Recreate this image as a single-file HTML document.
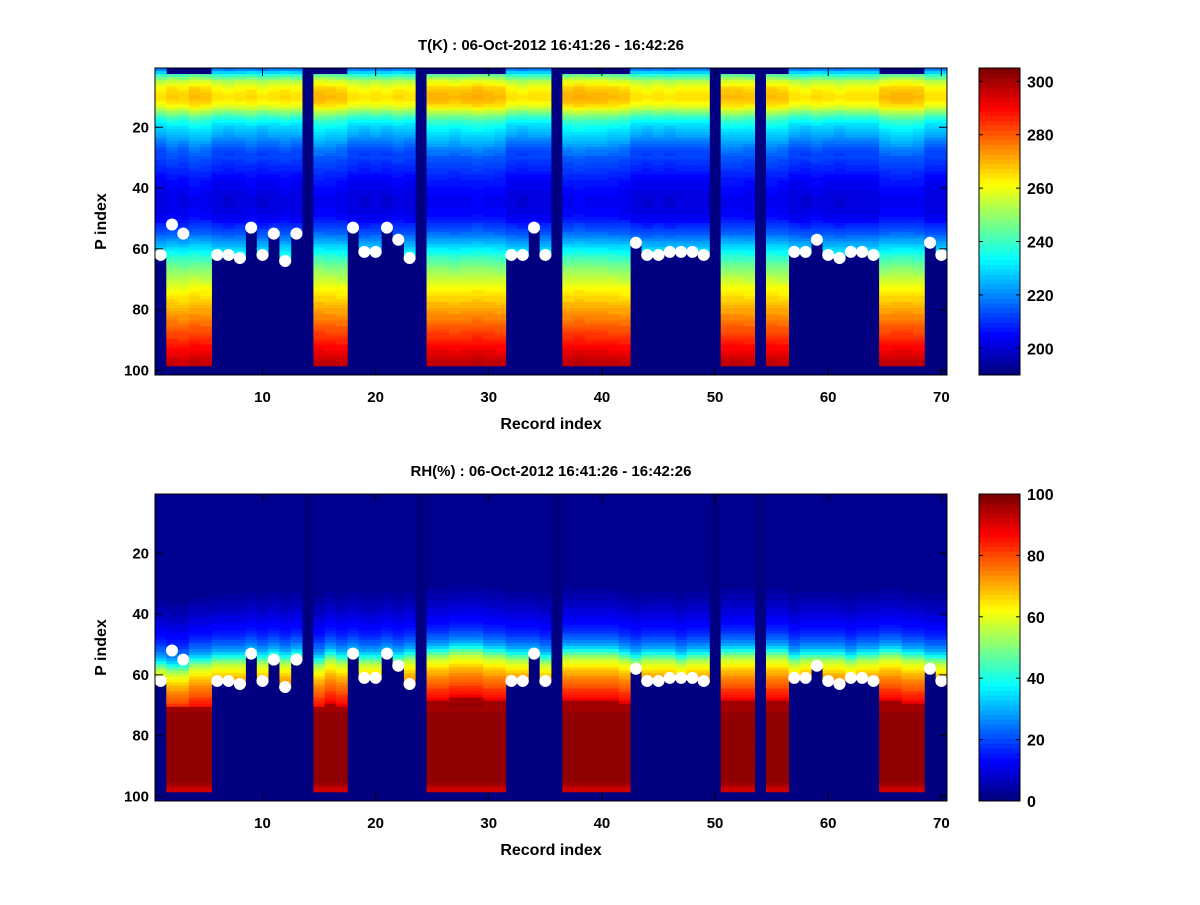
<!DOCTYPE html>
<html><head><meta charset="utf-8">
<style>
body{margin:0;background:#fff;}
svg text{font-family:"Liberation Sans",sans-serif;font-weight:bold;fill:#000;}
</style></head>
<body>
<svg id="fig" width="1200" height="900" xmlns="http://www.w3.org/2000/svg">
<rect width="1200" height="900" fill="#fff"/>
<g id="p1"></g>
<g id="p2"></g>
</svg>
<script>
// ---- data ----
const records = Array.from({length:70},(_,k)=>k+1);
// record type: 0 = gap (no data), 1 = full profile, 2 = land (masked below surface)
const recType = [2,1,1,1,1,2,2,2,2,2,2,2,2,0,1,1,1,2,2,2,2,2,2,0,1,1,1,1,1,1,1,2,2,2,2,0,1,1,1,1,1,1,2,2,2,2,2,2,2,0,1,1,1,0,1,1,2,2,2,2,2,2,2,2,1,1,1,1,2,2];
// surface marker P index (0 = none)
const surfP = [62,52,55,0,0,62,62,63,53,62,55,64,55,0,0,0,0,53,61,61,53,57,63,0,0,0,0,0,0,0,0,62,62,53,62,0,0,0,0,0,0,0,58,62,62,61,61,61,62,0,0,0,0,0,0,0,61,61,57,62,63,61,61,62,0,0,0,0,58,62];
const tBase = [222,232,242,250,256,260,264,266,267,268,267,265,262,257,251,246,241,237,234,231,
229,227,225,223,221,219,217,215,214,213,212,211,210,209,208,207,206,205,205,204,
203,203,202,202,202,202,203,203,204,205,207,209,211,213,215,218,221,224,227,230,
233,236,239,241,244,246,248,250,252,254,256,258,260,262,263,265,266,268,269,271,
272,274,275,277,278,280,281,283,284,286,287,289,290,292,293,295,296,297];
const tOffset = [-3,0,-1,2,1,-3,-4,-3,-2,-4,-3,-2,-3,0,3,2,1,-3,-4,-3,-4,-2,-3,0,3,3,2,3,4,3,2,-3,-4,-3,-3,0,3,4,3,3,2,1,-3,-4,-3,-4,-3,-3,-3,0,2,2,1,0,2,1,-3,-4,-2,-3,-4,-3,-3,-3,2,3,3,2,-3,-3];
const rhBase = [1,1,1,1,1,1,1,1,1,1,1,1,1,1,1,1,1,1,1,1,1,1,1,1,1,1,1,1,1,1,
1,2,2,3,3,4,5,6,7,8,9,10,11,12,13,14,16,18,20,22,
25,29,34,40,46,52,57,61,64,67,70,72,74,76,78,80,82,84,86,89,
97,97,98,98,99,99,99,99,99,99,99,99,99,99,99,99,99,99,99,99,99,99,99,99,99,97,94,92];
const rhShift = [-2,-3,-3,-1,-1,0,0,0,1,0,1,0,1,0,-1,1,0,1,0,0,1,0,1,0,2,2,3,3,3,2,2,1,1,1,0,0,2,2,2,2,2,1,0,1,1,1,0,1,1,0,2,2,2,0,2,2,0,1,1,1,1,0,1,1,2,2,1,1,0,0];
const tTicks = [200,220,240,260,280,300];
const rhTicks = [0,20,40,60,80,100];
const xTicks = [10,20,30,40,50,60,70];
const yTicks = [20,40,60,80,100];

const NS="http://www.w3.org/2000/svg";
function jet(t){t=Math.max(0,Math.min(1,t));t=Math.round(t*63)/63;
 const c=v=>Math.round(255*Math.max(0,Math.min(1,v)));
 return `rgb(${c(1.5-Math.abs(4*t-3))},${c(1.5-Math.abs(4*t-2))},${c(1.5-Math.abs(4*t-1))})`;}
function mk(tag,attrs,parent){const e=document.createElementNS(NS,tag);for(const k in attrs)e.setAttribute(k,attrs[k]);parent.appendChild(e);return e;}

function panel(g,top,title,valFn,cmin,cmax,cticks){
 const L=155,R=947,T=top,B=top+307,cbL=979,cbR=1020;
 const xs=i=>L+(i-0.5)*(R-L)/70;
 const ys=p=>T+(p-0.5)*(B-T)/101;
 const cs=v=>B-(v-cmin)/(cmax-cmin)*(B-T);
 const bg=mk('rect',{x:L,y:T,width:R-L,height:B-T,fill:jet(0)},g);
 
 
 for(let k=0;k<70;k++){
  const i=records[k],ty=recType[k];
  if(ty===0)continue;
  const maxP= ty===2 ? (surfP[k]||98) : 98;
  for(let p=1;p<=maxP;p++){
   const v=valFn(k,p);
   if(v===null)continue;
   const r=mk('rect',{x:xs(i-0.5).toFixed(2),y:ys(p-0.5).toFixed(2),width:((R-L)/70+0.4).toFixed(2),height:((B-T)/101+0.4).toFixed(2),fill:jet((v-cmin)/(cmax-cmin))},g);
   
   
  }
 }
 for(let k=0;k<70;k++){
  if(!surfP[k])continue;
  const c=mk('circle',{cx:xs(records[k]).toFixed(2),cy:ys(surfP[k]).toFixed(2),r:6,fill:'#fff'},g);
  
  
 }
 const fr=mk('rect',{x:L,y:T,width:R-L,height:B-T,fill:'none',stroke:'#000','stroke-width':1},g);
 
 
 xTicks.forEach(t=>{const x=xs(t);
  mk('line',{x1:x,y1:B,x2:x,y2:B-8,stroke:'#000'},g);mk('line',{x1:x,y1:T,x2:x,y2:T+8,stroke:'#000'},g);
  const tx=mk('text',{x:x,y:B+27,'text-anchor':'middle','font-size':15},g);tx.textContent=t;
  
  });
 yTicks.forEach(t=>{const y=ys(t);
  mk('line',{x1:L,y1:y,x2:L+8,y2:y,stroke:'#000'},g);mk('line',{x1:R,y1:y,x2:R-8,y2:y,stroke:'#000'},g);
  const tx=mk('text',{x:L-6,y:y+5,'text-anchor':'end','font-size':15},g);tx.textContent=t;
  
  });
 const ti=mk('text',{x:551,y:T-18,'text-anchor':'middle','font-size':15},g);ti.textContent=title;
 
 
 const xl=mk('text',{x:551,y:B+54,'text-anchor':'middle','font-size':16},g);xl.textContent='Record index';
 
 
 const yl=mk('text',{x:0,y:0,'text-anchor':'middle','font-size':16,transform:`translate(106,${(T+B)/2}) rotate(-90)`},g);yl.textContent='P index';
 
 
 const n=64,h=(B-T)/n;
 for(let s=0;s<n;s++){
  const r=mk('rect',{x:cbL,y:(B-(s+1)*h).toFixed(2),width:cbR-cbL,height:(h+0.4).toFixed(2),fill:jet(s/63)},g);
  
  
 }
 const cf=mk('rect',{x:cbL,y:T,width:cbR-cbL,height:B-T,fill:'none',stroke:'#000'},g);
 
 
 cticks.forEach(t=>{const y=cs(t);
  mk('line',{x1:cbL,y1:y,x2:cbL+4,y2:y,stroke:'#000'},g);mk('line',{x1:cbR,y1:y,x2:cbR-4,y2:y,stroke:'#000'},g);
  const tx=mk('text',{x:1027,y:y+6,'font-size':16},g);tx.textContent=t;
  
  });
}
panel(document.getElementById('p1'),68,'T(K) : 06-Oct-2012 16:41:26 - 16:42:26',
 (k,p)=>{ if(recType[k]===1&&p<=2)return null; return tBase[p-1]+tOffset[k]*(p<30?1:0.5);},190,305,tTicks);
panel(document.getElementById('p2'),494,'RH(%) : 06-Oct-2012 16:41:26 - 16:42:26',
 (k,p)=>{ const q=Math.max(1,Math.min(98,p+rhShift[k]*(p<71?1:0))); return rhBase[q-1];},0,100,rhTicks);
</script>
</body></html>
